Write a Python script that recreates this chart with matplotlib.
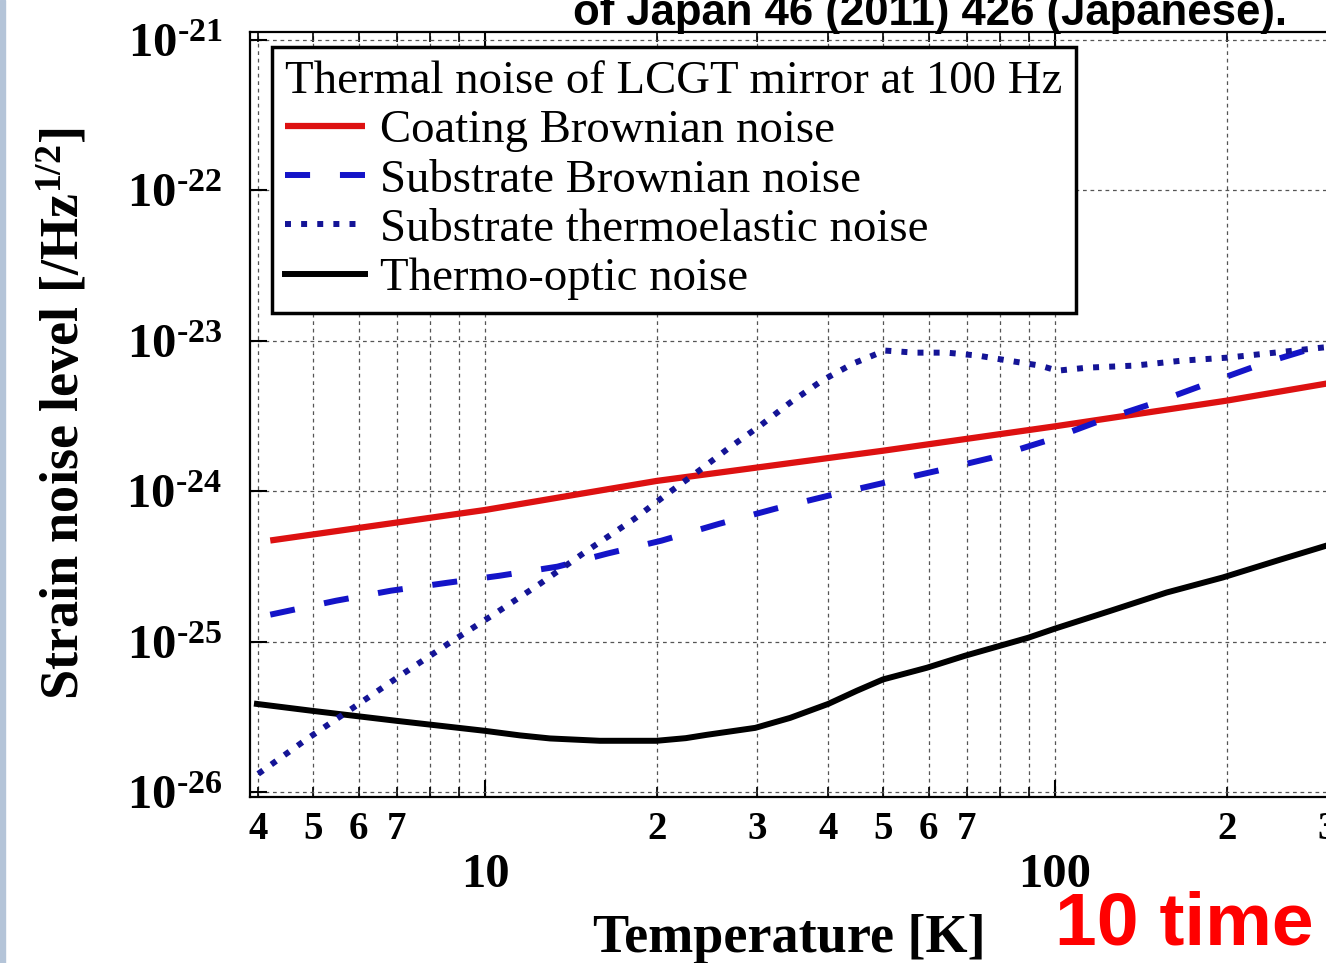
import numpy as np
import matplotlib
matplotlib.use('Agg')
import matplotlib.pyplot as plt
from matplotlib.ticker import FixedLocator, FuncFormatter, NullLocator
from matplotlib.patches import Rectangle

plt.rcParams['font.family'] = ['Liberation Serif', 'DejaVu Serif']
plt.rcParams['font.weight'] = 'bold'
plt.rcParams['mathtext.fontset'] = 'custom'
plt.rcParams['mathtext.rm'] = 'Liberation Serif:bold'
plt.rcParams['mathtext.bf'] = 'Liberation Serif:bold'
plt.rcParams['mathtext.it'] = 'Liberation Serif:bold:italic'
plt.rcParams['mathtext.default'] = 'rm'

# data (temperature in K, strain noise in 1/sqrt(Hz))
coating_T = [4.2, 10, 20, 50, 100, 200, 300, 400]
coating_h = [4.7e-25, 7.5e-25, 1.17e-24, 1.86e-24, 2.7e-24, 4.0e-24, 5.2e-24, 6.1e-24]

subbrown_T = [4.2, 5.48, 6.84, 8.58, 10.6, 13.4, 16.4, 20.4, 25.8, 32.3, 40.0,
              50.3, 62.3, 77.5, 96.8, 120, 150, 187, 234, 286, 400]
subbrown_h = [1.51e-25, 1.87e-25, 2.18e-25, 2.46e-25, 2.74e-25, 3.15e-25, 3.85e-25,
              4.69e-25, 6.08e-25, 7.65e-25, 9.33e-25, 1.14e-24, 1.37e-24, 1.67e-24,
              2.17e-24, 2.94e-24, 3.88e-24, 5.27e-24, 7.16e-24, 9.02e-24, 1.4e-23]

thermoel_T = [4.0, 4.87, 5.87, 7.09, 8.61, 10.4, 12.5, 15.1, 18.3, 20.9, 23.5, 26.7,
              30.4, 34.3, 39.0, 44.2, 50.3, 56.8, 64.6, 73.3, 82.7, 94.1, 101, 114,
              138, 167, 201, 243, 294, 400]
thermoel_h = [1.32e-26, 2.25e-26, 3.63e-26, 5.92e-26, 9.66e-26, 1.53e-25, 2.43e-25,
              4.02e-25, 6.56e-25, 9.62e-25, 1.33e-24, 1.92e-24, 2.73e-24, 3.88e-24,
              5.43e-24, 7.05e-24, 8.61e-24, 8.34e-24, 8.34e-24, 7.97e-24, 7.39e-24,
              6.84e-24, 6.33e-24, 6.63e-24, 6.84e-24, 7.38e-24, 7.73e-24, 8.34e-24,
              9.01e-24, 1.0e-23]

thermoopt_T = [3.98, 4.99, 7.01, 10, 11.5, 13, 15.9, 20, 22.5, 24.5, 29.8, 34.3, 40,
               44.9, 49.9, 59.6, 69.5, 89.7, 100, 125, 157, 197, 248, 299, 400]
thermoopt_h = [3.85e-26, 3.46e-26, 2.97e-26, 2.55e-26, 2.38e-26, 2.27e-26, 2.19e-26,
               2.19e-26, 2.28e-26, 2.40e-26, 2.67e-26, 3.11e-26, 3.85e-26, 4.71e-26,
               5.60e-26, 6.70e-26, 8.05e-26, 1.06e-25, 1.22e-25, 1.60e-25, 2.12e-25,
               2.67e-25, 3.5e-25, 4.34e-25, 6.1e-25]

labels = ['Coating Brownian noise', 'Substrate Brownian noise',
          'Substrate thermoelastic noise', 'Thermo-optic noise']
legend_title = 'Thermal noise of LCGT mirror at 100 Hz'
minor_labelled = [4, 5, 6, 7, 20, 30, 40, 50, 60, 70, 200, 300]

fig = plt.figure(figsize=(13.26, 9.63), dpi=100)
fig.patch.set_facecolor('white')
# axes runs past the right edge of the slide crop
ax = fig.add_axes([0.18854, 0.17238, 0.8659, 0.79439])

l_coat, = ax.plot(coating_T, coating_h, color='#dd1111', lw=4.5, zorder=3,
                  solid_capstyle='butt')
l_opt, = ax.plot(thermoopt_T, thermoopt_h, color='black', lw=4.3, zorder=3)
l_sb, = ax.plot(subbrown_T, subbrown_h, color='#1414c8', lw=4.3, zorder=4,
                dashes=(4.2, 5.0))
l_te, = ax.plot(thermoel_T, thermoel_h, color='#141496', lw=4.3, zorder=4,
                dashes=(1.0, 1.7))

ax.set_xscale('log')
ax.set_yscale('log')
ax.set_xlim(3.87, 400)
ax.set_ylim(10 ** -26.0333, 10 ** -20.9468)

ax.xaxis.set_major_locator(FixedLocator([10, 100, 1000]))
ax.xaxis.set_major_formatter(FuncFormatter(lambda v, p: '%d' % round(v)))
minor_x = [m * d for d in (1, 10, 100) for m in range(2, 10)]
ax.xaxis.set_minor_locator(FixedLocator(minor_x))
ax.xaxis.set_minor_formatter(FuncFormatter(
    lambda v, p: ('%d' % int(str(int(round(v)))[0])) if int(round(v)) in minor_labelled else ''))
ax.yaxis.set_major_locator(FixedLocator([10.0 ** k for k in range(-26, -20)]))
ax.yaxis.set_major_formatter(FuncFormatter(
    lambda v, p: r'$10^{\text{%d}}$' % round(np.log10(v))))
ax.yaxis.set_minor_locator(NullLocator())

ax.tick_params(axis='x', which='major', direction='in', length=12, width=1.5,
               labelsize=35, pad=40, top=True)
ax.tick_params(axis='x', which='minor', direction='in', length=7, width=1.2,
               labelsize=28, pad=10, top=True)
ax.tick_params(axis='y', which='major', direction='in', length=12, width=1.5,
               labelsize=35, pad=20, right=True)

ax.grid(True, which='both', axis='x', color='#555555', lw=0.9, linestyle=(0, (3, 3)))
ax.grid(True, which='major', axis='y', color='#555555', lw=0.9, linestyle=(0, (3, 3)))
for s in ax.spines.values():
    s.set_linewidth(1.6)

ax.set_xlabel('Temperature [K]', fontsize=39, fontweight='bold')
ax.xaxis.set_label_coords(0.4694, -0.153)
ax.set_ylabel('Strain noise level [/Hz$^{1/2}$]', fontsize=39, fontweight='bold')
ax.yaxis.set_label_coords(-0.1385, 0.5007)

leg = ax.legend([l_coat, l_sb, l_te, l_opt], labels, title=legend_title,
                loc='upper left', bbox_to_anchor=(0.0192, 0.980), borderaxespad=0,
                alignment='left', fancybox=False, framealpha=1, edgecolor='black',
                prop={'family': 'Liberation Serif', 'weight': 'normal', 'size': 33.7},
                title_fontproperties={'family': 'Liberation Serif', 'weight': 'normal', 'size': 33.7},
                handlelength=1.7, handletextpad=0.33, labelspacing=0.14,
                borderpad=0.28)
leg.get_frame().set_linewidth(2.5)
leg.set_zorder(6)

fig.text(0.7014, 0.974, 'of Japan 46 (2011) 426 (Japanese).', ha='center',
         va='baseline', fontsize=31.5, family='Liberation Sans',
         fontweight='bold', color='black')
fig.text(0.7956, 0.0187, '10 time', ha='left', va='baseline', fontsize=54,
         family='Liberation Sans', fontweight='bold', color='#ff0000')

fig.patches.append(Rectangle((0, 0), 5 / 1326, 1, transform=fig.transFigure,
                             color='#b4c4d8', zorder=0))

fig.savefig('out.png', dpi=100, facecolor='white')
